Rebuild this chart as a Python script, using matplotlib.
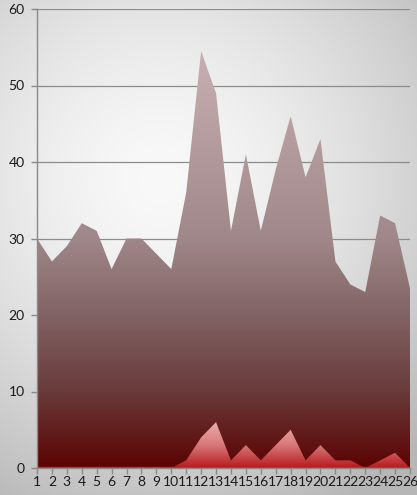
import numpy as np
import matplotlib
matplotlib.use("Agg")
import matplotlib.pyplot as plt
from matplotlib.colors import LinearSegmentedColormap

plt.rcParams['font.family'] = ['Lato', 'DejaVu Sans']

categories = list(range(1, 27))
series_total = [30, 27, 29, 32, 31, 26, 30, 30, 28, 26, 36, 54.5, 49, 31, 41,
                31, 39, 46, 38, 43, 27, 24, 23, 33, 32, 23.5]
series_small = [0, 0, 0, 0, 0, 0, 0, 0, 0, 0, 1, 4, 6, 1, 3,
                1, 3, 5, 1, 3, 1, 1, 0, 1, 2, 0]
y_ticks = [0, 10, 20, 30, 40, 50, 60]

W, H = 417, 495
fig = plt.figure(figsize=(W / 100, H / 100), dpi=100)

# radial background shading
bg = fig.add_axes([0, 0, 1, 1], zorder=0)
yy, xx = np.mgrid[0:H, 0:W]
r = np.hypot(xx - 160, yy - 180) / 370.0
r = np.clip(r, 0, 1)
shade = 249 - (249 - 182) * r ** 1.5
bg.imshow(np.dstack([shade] * 3).astype(np.uint8), extent=[0, W, H, 0], aspect='auto')
bg.set_axis_off()

ax = fig.add_axes([37 / W, 27 / H, 373 / W, 459 / H], zorder=1)
ax.set_facecolor('none')
ax.set_xlim(1, 26)
ax.set_ylim(0, 60)

for yv in y_ticks[1:]:
    ax.axhline(yv, color='#8c8c8c', lw=0.9, zorder=1)


def gradient_area(values, stops, zorder):
    poly = ax.fill_between(categories, 0, values, facecolor='none',
                           edgecolor='none', zorder=zorder)
    cmap = LinearSegmentedColormap.from_list(
        'g', [(p, tuple(c / 255 for c in col)) for p, col in stops])
    grad = np.linspace(0, 1, 256).reshape(-1, 1)
    top = max(values)
    im = ax.imshow(grad, cmap=cmap, origin='lower', aspect='auto',
                   extent=[1, 26, 0, top], zorder=zorder,
                   interpolation='bilinear')
    path = poly.get_paths()[0]
    im.set_clip_path(path, transform=ax.transData)


gradient_area(series_total,
              [(0.0, (92, 2, 2)), (0.18, (105, 58, 58)), (0.37, (130, 100, 102)),
               (0.55, (160, 135, 137)), (1.0, (200, 176, 178))], 2)
gradient_area(series_small,
              [(0.0, (185, 25, 28)), (0.5, (215, 120, 122)), (1.0, (238, 172, 172))], 3)
ax.axhline(0.12, color='#c42222', lw=1.0, zorder=4)

ax.set_xlim(1, 26)
ax.set_ylim(0, 60)
ax.set_xticks(categories)
ax.set_xticklabels([str(c) for c in categories])
ax.set_yticks(y_ticks)
for s in ['top', 'right']:
    ax.spines[s].set_visible(False)
for s in ['left', 'bottom']:
    ax.spines[s].set_color('#8a8a8a')
    ax.spines[s].set_linewidth(1.0)
    ax.spines[s].set_zorder(5)
ax.tick_params(axis='both', colors='#8a8a8a', length=4, width=1.0,
               labelcolor='#1a1a1a', labelsize=10)
ax.tick_params(axis='x', pad=2)
ax.tick_params(axis='y', pad=5)

fig.savefig('out.png', dpi=100)
